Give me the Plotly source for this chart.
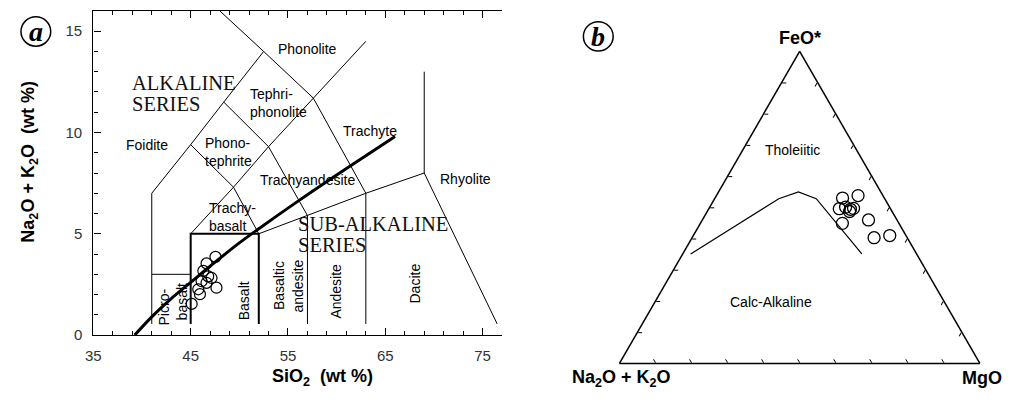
import plotly.graph_objects as go

# ---------------- Panel a : TAS diagram ----------------
sio2 = [47.55, 46.63, 46.3, 46.8, 47.14, 46.12, 46.63, 47.65, 45.78, 45.95, 45.1]
alkali = [3.86, 3.54, 3.17, 2.9, 2.82, 2.66, 2.58, 2.34, 2.26, 2.02, 1.54]

# alkaline / sub-alkaline divide (Irvine & Baragar)
divide_sio2 = [39.25, 41, 43, 45, 47, 50, 52, 56, 60, 63, 66]
divide_alk = [0, 0.9, 1.8, 2.6, 3.4, 4.55, 5.25, 6.6, 7.9, 8.85, 9.8]

# field boundaries (SiO2 list, Na2O+K2O list)
field_lines = [
    ([41, 41], [0.55, 7]),
    ([41, 45], [3, 3]),
    ([41, 45, 48.4, 52.5, 48], [7, 9.4, 11.5, 14, 16]),
    ([45, 49.4, 53, 57.6, 63], [5, 7.3, 9.3, 11.7, 14.5]),
    ([52, 49.4, 45], [5, 7.3, 9.4]),
    ([57, 53, 48.4], [5.9, 9.3, 11.5]),
    ([63, 57.6, 52.5], [7, 11.7, 14]),
    ([52, 57, 63, 69, 76.5], [5, 5.9, 7, 8, 0.55]),
    ([57, 57], [0.55, 5.9]),
    ([63, 63], [0.55, 7]),
    ([69, 69], [8, 13]),
]
basalt_box = ([45, 45, 52, 52], [0.55, 5, 5, 0.55])

x_ticks = [35, 45, 55, 65, 75]
y_ticks = [0, 5, 10, 15]

# (text, SiO2, alkali, anchor, angle)
field_labels = [
    ("Phonolite", 57.0, 14.12, "center", 0),
    ("Tephri-", 50.9, 11.88, "left", 0),
    ("phonolite", 50.9, 11.0, "left", 0),
    ("Foidite", 40.5, 9.38, "center", 0),
    ("Phono-", 46.3, 9.47, "left", 0),
    ("tephrite", 46.3, 8.59, "left", 0),
    ("Trachyte", 63.47, 10.06, "center", 0),
    ("Trachyandesite", 57.0, 7.66, "center", 0),
    ("Rhyolite", 73.27, 7.69, "center", 0),
    ("Trachy-", 46.63, 6.26, "left", 0),
    ("basalt", 46.63, 5.38, "left", 0),
    ("Picro-", 42.21, 1.39, "center", -90),
    ("basalt", 44.08, 1.65, "center", -90),
    ("Basalt", 50.44, 1.7, "center", -90),
    ("Basaltic", 54.1, 2.43, "center", -90),
    ("andesite", 56.0, 2.43, "center", -90),
    ("Andesite", 59.9, 2.18, "center", -90),
    ("Dacite", 68.06, 2.55, "center", -90),
]
series_labels = [
    ("ALKALINE", 38.78, 12.45),
    ("SERIES", 38.78, 11.39),
    ("SUB-ALKALINE", 55.82, 5.47),
    ("SERIES", 55.82, 4.47),
]

# ---------------- Panel b : AFM diagram ----------------
feo = [0.530, 0.538, 0.496, 0.501, 0.494, 0.497, 0.487, 0.449, 0.460, 0.403, 0.410]
alk_b = [0.116, 0.069, 0.142, 0.122, 0.112, 0.102, 0.118, 0.157, 0.079, 0.092, 0.045]
mgo = [0.354, 0.393, 0.362, 0.377, 0.394, 0.401, 0.395, 0.394, 0.461, 0.505, 0.545]

ib_feo = [0.351, 0.528, 0.55, 0.528, 0.351]
ib_alk = [0.627, 0.294, 0.2285, 0.19, 0.152]
ib_mgo = [0.022, 0.178, 0.2215, 0.282, 0.497]

# page body has an 8px default margin on every side: size the figure to fit the window exactly
OFF = 8
W, H = 1013 - 2 * OFF, 403 - 2 * OFF
SANS = "Liberation Sans, Arial, sans-serif"
SERIF = "Liberation Serif, Times New Roman, serif"


def px_x(px):
    return (px - OFF) / W


def px_y(py):
    return 1 - (py - OFF) / H


fig = go.Figure()

for xs, ys in field_lines:
    fig.add_trace(go.Scatter(x=xs, y=ys, mode="lines", line=dict(color="black", width=1),
                             showlegend=False, hoverinfo="skip"))
fig.add_trace(go.Scatter(x=basalt_box[0], y=basalt_box[1], mode="lines",
                         line=dict(color="black", width=2), showlegend=False, hoverinfo="skip"))
fig.add_trace(go.Scatter(x=divide_sio2, y=divide_alk, mode="lines", line=dict(color="black", width=3),
                         line_shape="spline", showlegend=False, hoverinfo="skip"))
fig.add_trace(go.Scatter(x=sio2, y=alkali, mode="markers",
                         marker=dict(symbol="circle-open", size=11, color="black", line=dict(width=1.2)),
                         showlegend=False))

# ternary
fig.add_trace(go.Scatterternary(a=ib_feo, b=ib_alk, c=ib_mgo, mode="lines",
                                line=dict(color="black", width=1.2), showlegend=False, hoverinfo="skip"))
fig.add_trace(go.Scatterternary(a=feo, b=alk_b, c=mgo, mode="markers",
                                marker=dict(symbol="circle-open", size=12, color="black", line=dict(width=1.3)),
                                showlegend=False))

tern_axis = dict(showline=True, linecolor="black", linewidth=1.5, ticks="inside", ticklen=4,
                 tickcolor="black", tickwidth=1, dtick=0.1, showticklabels=False, showgrid=False,
                 title=dict(text=""), min=0)

fig.update_layout(
    width=W, height=H, autosize=False,
    margin=dict(l=0, r=0, t=0, b=0, pad=0),
    paper_bgcolor="white", plot_bgcolor="white",
    xaxis=dict(domain=[px_x(86), px_x(498)], range=[35, 77], showline=True, linecolor="black", linewidth=1.3,
               mirror="ticks", ticks="inside", ticklen=7, tickwidth=1.2, tickcolor="black",
               tickvals=x_ticks, showgrid=False, zeroline=False, ticklabelstandoff=7,
               tickfont=dict(family=SANS, size=15, color="#333"),
               minor=dict(dtick=2, tick0=35, ticks="inside", ticklen=4, tickcolor="black", showgrid=False)),
    yaxis=dict(domain=[px_y(342), px_y(11)], range=[0, 16], showline=True, linecolor="black",
               linewidth=1.3, ticks="inside", ticklen=7, tickwidth=1.2, tickcolor="black",
               tickvals=y_ticks, showgrid=False, zeroline=False, ticklabelstandoff=7,
               tickfont=dict(family=SANS, size=15, color="#333"),
               minor=dict(dtick=1, tick0=0, ticks="inside", ticklen=4, tickcolor="black", showgrid=False)),
    ternary=dict(domain=dict(x=[px_x(614), px_x(982)], y=[px_y(371), px_y(371 - 318.7)]),
                 sum=1, bgcolor="white", aaxis=tern_axis, baxis=tern_axis, caxis=tern_axis),
)

ann = []
for text, x, y, anchor, ang in field_labels:
    ann.append(dict(x=x, y=y, xref="x", yref="y", text=text, showarrow=False, xanchor=anchor,
                    yanchor="middle", textangle=ang, font=dict(family=SANS, size=14, color="black")))
for text, x, y in series_labels:
    ann.append(dict(x=x, y=y, xref="x", yref="y", text=text, showarrow=False, xanchor="left",
                    yanchor="middle", font=dict(family=SERIF, size=20.5, color="#111")))

bold = dict(family=SANS, size=18, color="black")
for text, px, py, ang in [
    ("Na<sub>2</sub>O + K<sub>2</sub>O  (wt %)", 22, 165, -90),
    ("SiO<sub>2</sub>  (wt %)", 316.7, 385, 0),
    ("FeO*", 798, 39, 0),
    ("Na<sub>2</sub>O + K<sub>2</sub>O", 618, 386, 0),
    ("MgO", 982, 386, 0),
]:
    ann.append(dict(x=px_x(px), y=px_y(py), xref="paper", yref="paper", text="<b>" + text + "</b>",
                    showarrow=False, xanchor="center", yanchor="middle", textangle=ang, font=bold))

for text, px, py in [("Tholeiitic", 791, 153), ("Calc-Alkaline", 769, 308)]:
    ann.append(dict(x=px_x(px), y=px_y(py), xref="paper", yref="paper", text=text, showarrow=False,
                    xanchor="center", yanchor="middle", font=dict(family=SANS, size=14, color="black")))

shapes = []
for letter, cx, cy in [("a", 28, 32), ("b", 595, 37)]:
    shapes.append(dict(type="circle", xref="paper", yref="paper",
                       x0=px_x(cx - 15), y0=px_y(cy + 15), x1=px_x(cx + 15), y1=px_y(cy - 15),
                       line=dict(color="black", width=1.5)))
    ann.append(dict(x=px_x(cx), y=px_y(cy), xref="paper", yref="paper", text="<b><i>" + letter + "</i></b>",
                    showarrow=False, xanchor="center", yanchor="middle",
                    font=dict(family=SERIF, size=28, color="black")))

fig.update_layout(annotations=ann, shapes=shapes)
fig.write_html("out.html")
